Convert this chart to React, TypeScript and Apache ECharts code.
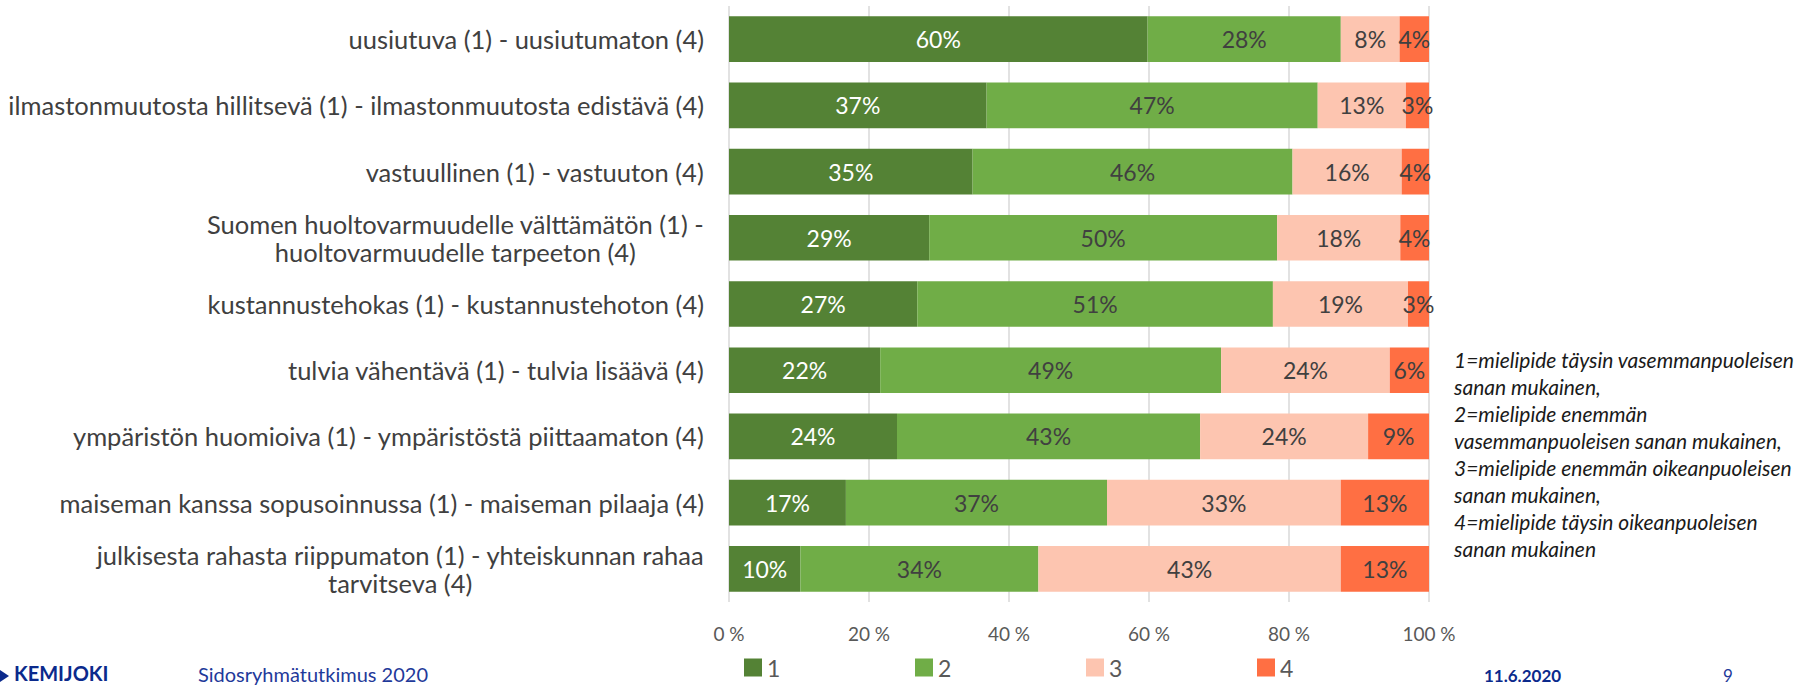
import React, { useEffect, useRef } from "react";
import * as echarts from "echarts";

const categories = [
  "uusiutuva (1) - uusiutumaton (4)",
  "ilmastonmuutosta hillitsevä (1) - ilmastonmuutosta edistävä (4)",
  "vastuullinen (1) - vastuuton (4)",
  "Suomen huoltovarmuudelle välttämätön (1) -\nhuoltovarmuudelle tarpeeton (4)",
  "kustannustehokas (1) - kustannustehoton (4)",
  "tulvia vähentävä (1) - tulvia lisäävä (4)",
  "ympäristön huomioiva (1) - ympäristöstä piittaamaton (4)",
  "maiseman kanssa sopusoinnussa (1) - maiseman pilaaja (4)",
  "julkisesta rahasta riippumaton (1) - yhteiskunnan rahaa\ntarvitseva (4)",
];

const seriesNames = ["1", "2", "3", "4"];
const values1 = [59.8, 36.8, 34.8, 28.6, 26.9, 21.6, 24.0, 16.7, 10.2];
const values2 = [27.6, 47.3, 45.7, 49.7, 50.8, 48.7, 43.3, 37.3, 34.0];
const values3 = [8.4, 12.6, 15.6, 17.6, 19.3, 24.1, 24.0, 33.4, 43.2];
const values4 = [4.2, 3.3, 3.9, 4.1, 3.0, 5.6, 8.7, 12.6, 12.6];
const colors = ["#548235", "#70AD47", "#FDC5B0", "#FF6F43"];
const labelColors = ["#ffffff", "#404040", "#404040", "#404040"];

const noteLines = [
  "1=mielipide täysin vasemmanpuoleisen",
  "sanan mukainen,",
  "2=mielipide enemmän",
  "vasemmanpuoleisen sanan mukainen,",
  "3=mielipide enemmän oikeanpuoleisen",
  "sanan mukainen,",
  "4=mielipide täysin oikeanpuoleisen",
  "sanan mukainen",
];

const FONT = "Lato, 'Noto Sans', sans-serif";

export default function App() {
  const ref = useRef<HTMLDivElement>(null);
  useEffect(() => {
    document.body.style.margin = "0";
    const chart = echarts.init(ref.current!, null, { renderer: "svg" });
    const allValues = [values1, values2, values3, values4];
    const series = allValues.map((vals, i) => ({
      name: seriesNames[i],
      type: "bar",
      stack: "total",
      barCategoryGap: "31%",
      data: vals,
      itemStyle: { color: colors[i] },
      label: {
        show: true,
        position: "inside",
        color: labelColors[i],
        fontSize: 23,
        fontFamily: FONT,
        formatter: (p: any) => Math.round(p.value) + "%",
      },
    }));
    chart.setOption({
      animation: false,
      textStyle: { fontFamily: FONT },
      grid: { left: 729, right: 372, top: 6, bottom: 84, containLabel: false },
      xAxis: {
        type: "value",
        min: 0,
        max: 100,
        interval: 20,
        axisLine: { show: false },
        axisTick: { show: false },
        splitLine: { show: true, lineStyle: { color: "#D9D9D9", width: 1.5 } },
        axisLabel: {
          formatter: (v: number) => v + " %",
          color: "#595959",
          fontSize: 19,
          fontFamily: FONT,
          margin: 22,
        },
      },
      yAxis: {
        type: "category",
        inverse: true,
        data: categories,
        axisLine: { show: false },
        axisTick: { show: false },
        axisLabel: {
          margin: 25,
          align: "right",
          formatter: (v: string) =>
            v
              .split("\n")
              .map((l) => "{c|" + l + "}")
              .join("\n"),
          rich: {
            c: {
              align: "center",
              fontSize: 25.5,
              lineHeight: 28,
              color: "#404040",
              fontFamily: FONT,
            },
          },
        },
      },
      legend: {
        left: 744,
        top: 656,
        padding: 0,
        itemWidth: 18,
        itemHeight: 18,
        itemGap: 126,
        icon: "rect",
        textStyle: { fontSize: 23, lineHeight: 23, color: "#595959", fontFamily: FONT, width: 22 },
        data: seriesNames,
      },
      graphic: [
        {
          type: "text",
          left: 1454,
          top: 346,
          style: {
            text: noteLines.join("\n"),
            font: "italic 21px " + FONT,
            lineHeight: 27,
            fill: "#1a1a1a",
          },
        },
        {
          type: "polygon",
          shape: { points: [[0, 670], [9, 676], [0, 682]] },
          style: { fill: "#0B2A8C" },
        },
        {
          type: "text",
          x: 14,
          y: 684,
          style: {
            text: "KEMIJOKI",
            font: "bold 20px " + FONT,
            fill: "#0B2A8C",
            verticalAlign: "bottom",
            lineHeight: 22,
          },
        },
        {
          type: "text",
          x: 198,
          y: 685,
          style: {
            text: "Sidosryhmätutkimus 2020",
            font: "20px " + FONT,
            fill: "#1F3A9A",
            verticalAlign: "bottom",
            lineHeight: 22,
          },
        },
        {
          type: "text",
          x: 1484,
          y: 685,
          style: {
            text: "11.6.2020",
            font: "bold 17px " + FONT,
            fill: "#0B2A8C",
            verticalAlign: "bottom",
            lineHeight: 19,
          },
        },
        {
          type: "text",
          x: 1723,
          y: 685,
          style: {
            text: "9",
            font: "17px " + FONT,
            fill: "#1F3A9A",
            verticalAlign: "bottom",
            lineHeight: 19,
          },
        },
      ],
      series,
    });
    return () => chart.dispose();
  }, []);
  return <div ref={ref} style={{ width: 1801, height: 686 }} />;
}
